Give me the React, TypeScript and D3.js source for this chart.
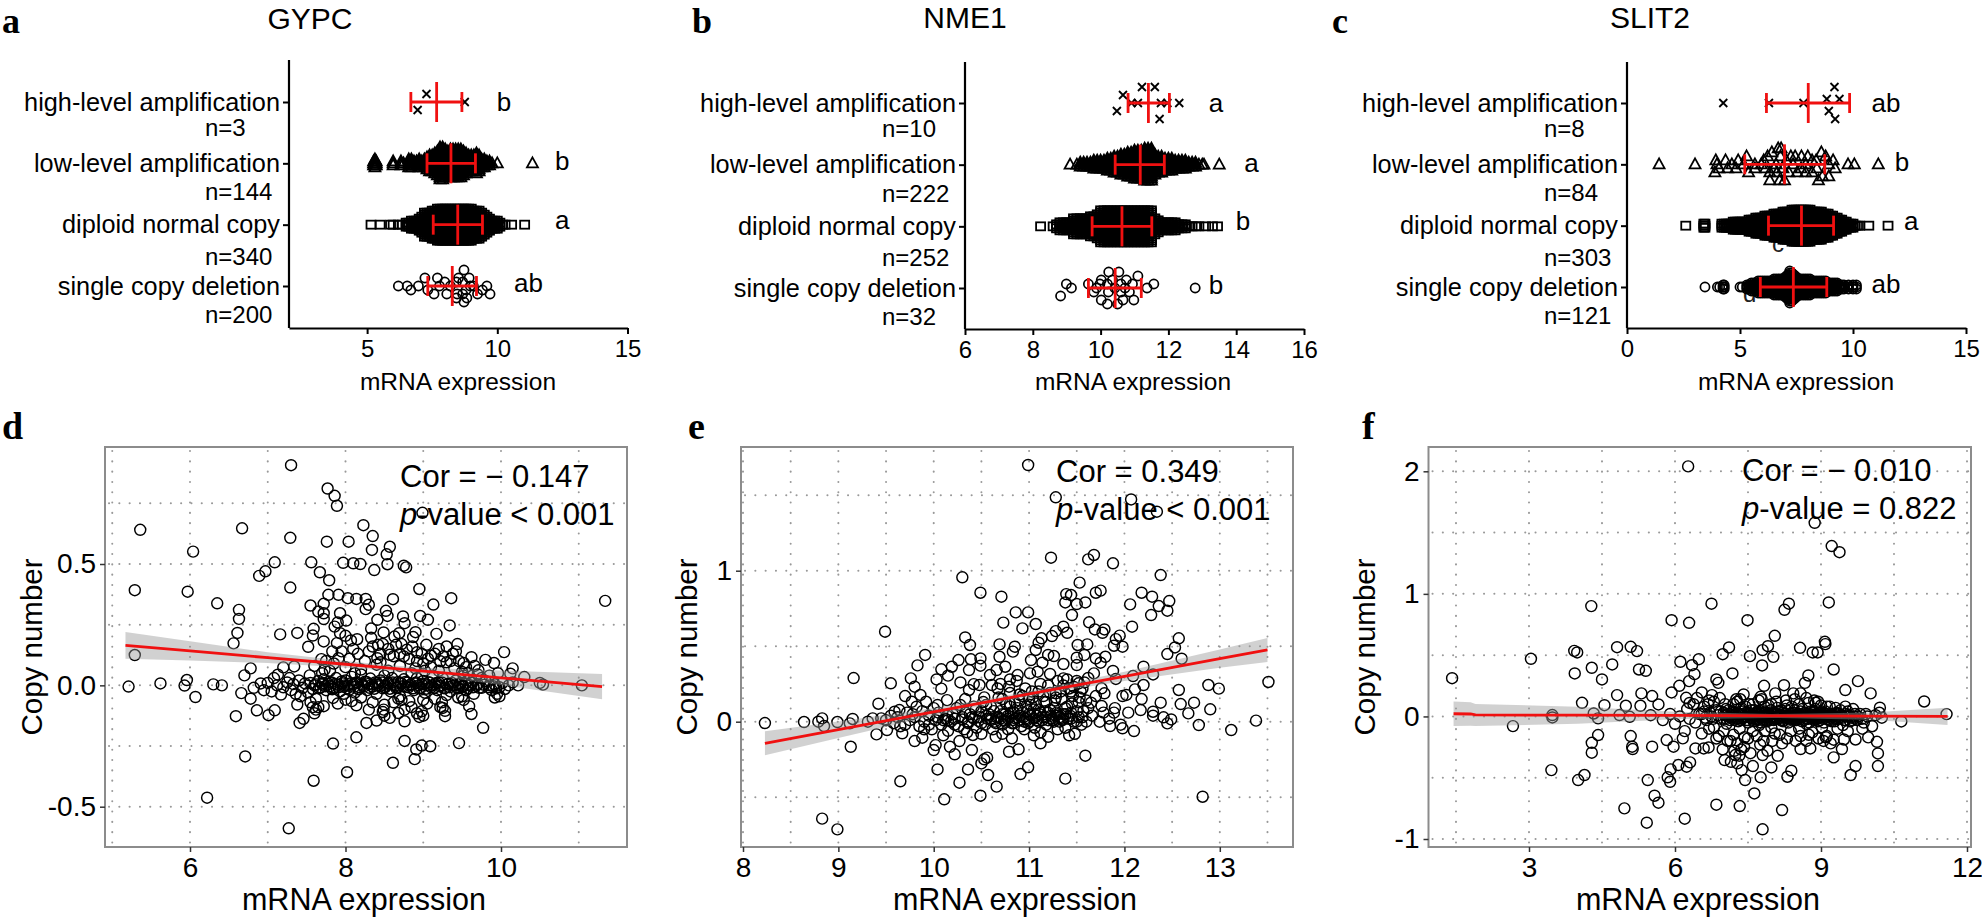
import React, { useEffect, useRef } from "react";
import * as d3 from "d3";

type Pair = [number, number];

const categories = ["high-level amplification", "low-level amplification", "diploid normal copy", "single copy deletion"];

// swarm panels: [value, lane] for sparse groups, [value, stack height in lanes] for dense groups
const gypcHigh: Pair[] = [[7.28, -2], [6.94, 2], [8.75, 0]];
const gypcLow: Pair[] = [[5.25, 2], [5.3, 3], [5.35, 2], [6.0, 2], [6.3, 2], [6.4, 1], [6.6, 3], [6.7, 3], [6.8, 2], [6.9, 2], [7.0, 3], [7.1, 2], [7.2, 3], [7.3, 4], [7.4, 5], [7.5, 5], [7.6, 6], [7.7, 7], [7.8, 9], [7.9, 9], [8.0, 8], [8.1, 7], [8.2, 8], [8.3, 8], [8.4, 8], [8.5, 8], [8.6, 8], [8.7, 7], [8.8, 6], [8.9, 5], [9.0, 5], [9.1, 5], [9.2, 6], [9.3, 5], [9.4, 3], [9.5, 3], [9.6, 2], [9.7, 2], [9.8, 1], [10.0, 1], [11.35, 1]];
const gypcDiploid: Pair[] = [[5.15, 1], [5.5, 1], [5.9, 1], [6.0, 1], [6.2, 1], [6.35, 1], [6.5, 2], [6.6, 2], [6.7, 3], [6.8, 3], [6.9, 3], [7.0, 4], [7.1, 5], [7.2, 7], [7.3, 7], [7.4, 7], [7.5, 8], [7.6, 8], [7.7, 9], [7.8, 9], [7.9, 9], [8.0, 9], [8.1, 9], [8.2, 9], [8.3, 9], [8.4, 9], [8.5, 9], [8.6, 9], [8.7, 9], [8.8, 9], [8.9, 9], [9.0, 9], [9.1, 8], [9.2, 8], [9.3, 8], [9.4, 7], [9.5, 6], [9.6, 5], [9.7, 4], [9.8, 3], [9.9, 3], [10.0, 3], [10.1, 2], [10.2, 1], [10.3, 1], [10.55, 1], [11.05, 1]];
const gypcDeletion: Pair[] = [[6.2, 0], [6.54, 0], [6.68, 1], [6.97, 0], [7.22, -2], [7.33, 1], [7.57, 2], [7.7, -2], [7.78, 0], [7.98, -1], [8.06, 2], [8.2, 0], [8.43, -1], [8.43, 3], [8.46, 2], [8.51, -2], [8.67, -1], [8.67, 2], [8.72, -4], [8.72, 4], [8.8, 1], [8.83, 3], [8.92, -2], [8.96, 0], [9.08, 0], [9.24, 2], [9.43, 1], [9.6, 0], [9.72, 2]];

const nme1High: Pair[] = [[11.22, -4], [11.6, -4], [10.66, -2], [10.48, 2], [11.74, 4], [11.1, 0], [10.91, 0], [11.78, 0], [11.97, 0], [12.32, 0]];
const nme1Low: Pair[] = [[9.1, 1], [9.3, 1], [9.4, 2], [9.5, 2], [9.6, 2], [9.7, 2], [9.8, 3], [9.9, 3], [10.0, 3], [10.1, 3], [10.2, 4], [10.3, 4], [10.4, 5], [10.5, 5], [10.6, 6], [10.7, 6], [10.8, 7], [10.9, 7], [11.0, 8], [11.1, 8], [11.2, 8], [11.3, 9], [11.4, 9], [11.5, 9], [11.6, 6], [11.7, 5], [11.8, 5], [11.9, 4], [12.0, 4], [12.1, 4], [12.2, 3], [12.3, 3], [12.4, 3], [12.5, 3], [12.6, 2], [12.7, 2], [12.8, 2], [12.9, 1], [13.0, 1], [13.05, 1], [13.5, 1]];
const nme1Diploid: Pair[] = [[8.23, 1], [8.6, 1], [8.7, 2], [8.8, 3], [8.9, 3], [9.0, 3], [9.1, 3], [9.2, 5], [9.3, 5], [9.4, 5], [9.5, 5], [9.6, 5], [9.7, 6], [9.8, 6], [9.9, 7], [10.0, 9], [10.1, 9], [10.2, 9], [10.3, 9], [10.4, 9], [10.5, 9], [10.6, 9], [10.7, 9], [10.8, 9], [10.9, 9], [11.0, 9], [11.1, 9], [11.2, 9], [11.3, 9], [11.4, 9], [11.5, 9], [11.6, 5], [11.7, 4], [11.8, 3], [11.9, 3], [12.0, 3], [12.1, 3], [12.2, 3], [12.3, 2], [12.4, 2], [12.5, 2], [12.6, 1], [12.7, 1], [12.8, 1], [12.9, 1], [13.1, 1], [13.3, 1], [13.45, 1]];
const nme1Deletion: Pair[] = [[8.82, 2], [8.99, -1], [9.14, 0], [9.64, -1], [9.8, 1], [9.88, 0], [9.98, -1], [10.02, -2], [10.02, 3], [10.2, -1], [10.23, 1], [10.2, 4], [10.24, -4], [10.35, -2], [10.42, 0], [10.5, 4], [10.54, -4], [10.6, -1], [10.6, 1], [10.66, 3], [10.72, 0], [10.76, -2], [10.85, 1], [10.94, -1], [10.98, 3], [11.1, -3], [11.37, 0], [11.57, -1], [12.79, 0]];

const slit2High: Pair[] = [[4.26, 0], [6.28, 0], [7.81, 0], [8.84, -1], [9.4, -1], [8.93, 2], [9.18, -4], [9.21, 4]];
const slit2Low: Pair[] = [[1.42, 0], [3.01, 0], [3.93, -1], [3.98, 0], [3.89, 2], [4.07, 1], [4.36, -1], [4.64, 0], [4.45, 1], [4.92, -1], [4.82, 1], [5.29, -2], [5.38, 2], [5.16, 0], [5.66, 0], [5.66, 1], [5.94, 0], [6.13, 1], [6.22, -2], [6.32, 4], [6.32, 2], [6.41, -3], [6.69, -4], [6.82, -4], [6.79, -2], [6.6, 0], [6.64, 2], [6.75, 4], [6.97, 4], [7.25, -2], [7.35, 0], [7.44, -2], [7.16, 2], [7.53, 2], [7.72, -2], [7.91, 0], [8, -2], [8.19, -1], [8.6, -3], [8.37, -1], [8.19, 2], [8.47, 4], [8.65, 3], [8.93, 3], [8.79, -2], [8.93, 0], [9.12, -1], [9.21, 1], [9.78, 0], [10.06, 0], [11.12, 0], [7.91, 2], [6.5, 1], [6.9, 1], [7.7, 1], [8.4, 1], [6.05, -1], [7.05, -1]];
const slit2Diploid: Pair[] = [[2.6, 1], [3.4, 2], [3.45, 2], [4.2, 2], [4.3, 2], [4.4, 2], [4.5, 2], [4.6, 2], [4.7, 3], [4.8, 3], [4.9, 3], [5.0, 3], [5.1, 3], [5.2, 3], [5.3, 3], [5.4, 4], [5.5, 4], [5.6, 4], [5.7, 5], [5.8, 5], [5.9, 5], [6.0, 5], [6.1, 6], [6.2, 6], [6.3, 6], [6.4, 6], [6.5, 7], [6.6, 7], [6.7, 7], [6.8, 7], [6.9, 8], [7.0, 8], [7.1, 8], [7.2, 8], [7.3, 9], [7.4, 9], [7.5, 9], [7.6, 9], [7.7, 9], [7.8, 9], [7.9, 9], [8.0, 9], [8.1, 9], [8.2, 8], [8.3, 8], [8.4, 8], [8.5, 8], [8.6, 8], [8.7, 7], [8.8, 7], [8.9, 7], [9.0, 6], [9.1, 6], [9.2, 5], [9.3, 5], [9.4, 4], [9.5, 4], [9.6, 3], [9.7, 3], [9.8, 2], [9.9, 2], [10.0, 2], [10.1, 1], [10.2, 1], [10.3, 1], [10.7, 1], [11.55, 1]];
const slit2Deletion: Pair[] = [[3.45, 1], [4.0, 1], [4.1, 1], [4.25, 2], [4.3, 2], [5.0, 1], [5.1, 1], [5.3, 2], [5.4, 2], [5.5, 3], [5.6, 3], [5.7, 3], [5.8, 4], [5.9, 4], [6.0, 4], [6.1, 4], [6.2, 4], [6.3, 4], [6.4, 4], [6.5, 5], [6.6, 5], [6.7, 5], [6.8, 5], [6.9, 5], [7.0, 6], [7.1, 7], [7.2, 9], [7.3, 8], [7.4, 7], [7.5, 6], [7.6, 5], [7.7, 5], [7.8, 5], [7.9, 5], [8.0, 5], [8.1, 5], [8.2, 4], [8.3, 4], [8.4, 4], [8.5, 4], [8.6, 4], [8.7, 4], [8.8, 4], [8.9, 3], [9.0, 3], [9.1, 3], [9.2, 3], [9.3, 3], [9.4, 2], [9.5, 2], [9.6, 2], [9.8, 2], [10.0, 2], [10.15, 2]];

// mean, lower SD, upper SD for the red error bars, in category order
const gypcMeans = [7.67, 8.22, 8.48, 8.27];
const gypcSdLow = [6.68, 7.3, 7.54, 7.33];
const gypcSdHigh = [8.64, 9.16, 9.43, 9.2];
const nme1Means = [11.41, 11.17, 10.63, 10.43];
const nme1SdLow = [10.81, 10.43, 9.75, 9.64];
const nme1SdHigh = [12.03, 11.88, 11.51, 11.2];
const slit2Means = [8.02, 6.97, 7.72, 7.36];
const slit2SdLow = [6.17, 5.21, 6.26, 5.9];
const slit2SdHigh = [9.85, 8.75, 9.14, 8.84];

const gypcCounts = ["n=3", "n=144", "n=340", "n=200"];
const nme1Counts = ["n=10", "n=222", "n=252", "n=32"];
const slit2Counts = ["n=8", "n=84", "n=303", "n=121"];
const gypcLetters = ["b", "b", "a", "ab"];
const nme1Letters = ["a", "a", "b", "b"];
const slit2Letters = ["ab", "b", "a", "ab"];
const gypcLetterAt = [10.26, 12.49, 12.49, 11.2];
const nme1LetterAt = [13.4, 14.45, 14.2, 13.4];
const slit2LetterAt = [11.46, 12.17, 12.58, 11.46];

// copy number scatter points [mRNA, copy number]
const gypcPoints: Pair[] = [[7.3, 0.907], [7.77, 0.811], [7.86, 0.781], [7.89, 0.74], [8.99, 0.711], [5.36, 0.641], [6.67, 0.647], [8.23, 0.66], [7.29, 0.608], [8.35, 0.615], [7.76, 0.592], [8.04, 0.592], [8.57, 0.571], [8.34, 0.558], [6.04, 0.551], [8.53, 0.54], [7.09, 0.507], [7.56, 0.507], [7.97, 0.505], [8.1, 0.503], [8.19, 0.5], [8.54, 0.499], [8.75, 0.493], [8.78, 0.486], [8.37, 0.475], [7.67, 0.466], [6.97, 0.47], [6.89, 0.451], [7.79, 0.433], [7.29, 0.403], [5.29, 0.392], [5.97, 0.386], [8.95, 0.397], [7.78, 0.373], [7.91, 0.373], [8.03, 0.359], [8.14, 0.356], [8.26, 0.356], [8.61, 0.355], [9.36, 0.359], [9.13, 0.333], [6.35, 0.338], [7.55, 0.329], [7.72, 0.336], [8.3, 0.332], [8.26, 0.314], [8.52, 0.307], [6.63, 0.311], [6.63, 0.274], [7.65, 0.304], [7.72, 0.297], [7.93, 0.297], [8.54, 0.286], [8.74, 0.284], [8.96, 0.286], [7.72, 0.273], [9.06, 0.27], [8.01, 0.267], [8.41, 0.27], [7.9, 0.259], [8.76, 0.256], [7.86, 0.242], [9.34, 0.247], [8.33, 0.234], [7.59, 0.233], [6.61, 0.216], [7.38, 0.216], [7.16, 0.21], [8.9, 0.219], [8.49, 0.218], [8.69, 0.215], [7.93, 0.215], [9.17, 0.212], [7.58, 0.205], [8.0, 0.204], [8.33, 0.196], [8.63, 0.201], [8.87, 0.199], [8.07, 0.185], [8.15, 0.19], [7.72, 0.181], [7.89, 0.174], [6.56, 0.173], [8.42, 0.167], [7.52, 0.159], [8.65, 0.167], [9.04, 0.167], [9.44, 0.17], [9.3, 0.16], [8.79, 0.147], [8.92, 0.136], [10.04, 0.137], [8.16, 0.13], [7.83, 0.14], [9.38, 0.13], [9.1, 0.122], [8.75, 0.119], [5.29, 0.125], [9.62, 0.116], [8.41, 0.112], [8.57, 0.126], [9.8, 0.105], [9.91, 0.092], [7.91, 0.112], [9.52, 0.092], [9.22, 0.099], [7.69, 0.108], [7.34, 0.078], [6.78, 0.07], [7.2, 0.074], [9.71, 0.062], [10.15, 0.07], [7.73, 0.064], [10.12, 0.048], [6.7, 0.041], [10.3, 0.034], [7.54, 0.041], [7.13, 0.044], [5.21, -0.005], [5.62, 0.008], [5.96, 0.022], [5.93, -0.001], [6.3, 0.004], [6.41, 0], [6.91, 0.008], [10.5, 0.01], [10.54, 0.003], [11.04, 0], [11.34, 0.348], [6.07, -0.048], [6.66, -0.032], [6.78, -0.055], [7.17, -0.038], [6.86, -0.103], [7.09, -0.103], [7.01, -0.123], [6.59, -0.127], [7.46, -0.138], [7.41, -0.155], [7.38, -0.079], [7.62, -0.1], [7.72, -0.086], [7.84, -0.052], [8, -0.059], [8.14, -0.082], [8.3, -0.1], [8.4, -0.145], [8.27, -0.155], [8.49, -0.1], [8.57, -0.134], [8.76, -0.148], [8.68, -0.114], [8.76, -0.1], [8.98, -0.107], [9.25, -0.093], [9.28, -0.127], [9.59, -0.086], [9.62, -0.118], [9.77, -0.175], [8.14, -0.214], [7.84, -0.24], [8.76, -0.229], [8.98, -0.248], [8.91, -0.264], [9.09, -0.251], [9.46, -0.238], [6.71, -0.293], [8.89, -0.304], [8.61, -0.319], [8.02, -0.358], [7.59, -0.393], [6.22, -0.463], [7.27, -0.589],
  [6.82, -0.01], [6.95, -0.02], [7.0, 0.01], [7.05, -0.025], [7.08, 0.03], [7.12, 0.0], [7.2, -0.008], [7.25, 0.012], [7.28, 0.03], [7.3, -0.02], [7.33, 0.005], [7.36, -0.035], [7.4, 0.02], [7.42, -0.045], [7.45, -0.01], [7.48, 0.008], [7.52, -0.03], [7.55, 0.01], [7.58, -0.015], [7.6, 0.0], [7.62, -0.055], [7.65, 0.018], [7.68, -0.008], [7.7, 0.004], [7.72, 0.025], [7.75, -0.02], [7.78, 0.006], [7.8, -0.004], [7.82, 0.012], [7.85, -0.012], [7.88, 0.03], [7.9, 0.002], [7.93, -0.025], [7.96, 0.009], [7.98, -0.006], [8.0, 0.02], [8.03, 0.0], [8.05, -0.018], [8.08, 0.035], [8.1, 0.004], [8.12, -0.03], [8.15, 0.01], [8.18, -0.008], [8.2, 0.045], [8.22, 0.0], [8.25, 0.015], [8.28, -0.02], [8.3, 0.006], [8.32, 0.028], [8.35, -0.005], [8.38, 0.012], [8.4, -0.035], [8.42, 0.002], [8.45, 0.02], [8.48, -0.012], [8.5, 0.04], [8.52, -0.002], [8.55, 0.01], [8.58, -0.025], [8.6, 0.03], [8.62, 0.004], [8.65, -0.01], [8.68, 0.014], [8.7, -0.045], [8.72, 0.006], [8.75, 0.025], [8.78, -0.006], [8.8, 0.012], [8.82, 0.0], [8.85, 0.05], [8.88, -0.02], [8.9, 0.008], [8.92, 0.03], [8.95, -0.012], [8.98, 0.004], [9.0, 0.018], [9.02, -0.03], [9.05, 0.0], [9.08, 0.012], [9.1, -0.008], [9.12, 0.04], [9.15, 0.005], [9.18, -0.02], [9.2, 0.012], [9.22, 0.0], [9.25, 0.03], [9.28, -0.01], [9.3, -0.04], [9.33, 0.008], [9.35, -0.025], [9.38, 0.0], [9.42, 0.02], [9.45, -0.012], [9.48, 0.006], [9.5, -0.003], [9.52, 0.04], [9.55, -0.02], [9.58, 0.002], [9.62, 0.012], [9.65, -0.035], [9.7, 0.005], [9.75, -0.01], [9.8, 0.018], [9.85, 0.0], [9.88, -0.02], [9.92, 0.004], [9.95, -0.035], [9.98, -0.008], [10.02, 0.01], [10.05, -0.015], [10.1, 0.0], [10.15, 0.012], [10.22, 0.0],
  [7.8, 0.06], [8.0, 0.075], [8.2, 0.065], [8.4, 0.085], [8.45, 0.095], [8.55, 0.06], [8.7, 0.08], [8.9, 0.07], [9.0, 0.09], [9.1, 0.075], [9.2, 0.06], [9.3, 0.095], [9.4, 0.07], [9.5, 0.055], [9.55, 0.075], [9.7, 0.045], [9.75, 0.03], [8.62, -0.07], [8.82, -0.065], [9.0, -0.06], [9.15, -0.055], [9.24, -0.07], [9.45, -0.05], [9.52, -0.06], [8.2, -0.05], [7.98, -0.035],
  [7.6, 0.08], [7.7, 0.05], [7.75, 0.1], [7.85, 0.09], [7.95, 0.14], [8.05, 0.11], [8.1, 0.15], [8.12, 0.05], [8.25, 0.1], [8.3, 0.14], [8.35, 0.16], [8.45, 0.13], [8.48, 0.17], [8.55, 0.15], [8.62, 0.12], [8.7, 0.13], [8.72, 0.17], [8.82, 0.11], [8.86, 0.16], [8.92, 0.1], [8.98, 0.13], [9.02, 0.06], [9.06, 0.11], [9.15, 0.13], [9.2, 0.15], [9.26, 0.12], [9.35, 0.1], [9.42, 0.14], [9.46, 0.1], [9.58, 0.05], [9.66, 0.08], [9.85, 0.04], [9.96, 0.05], [7.55, -0.07], [7.65, -0.09], [7.9, -0.075], [8.08, -0.065], [8.35, -0.07], [8.5, -0.08], [8.68, -0.055], [8.85, -0.09], [8.95, -0.13], [9.05, -0.075], [9.22, -0.09], [9.28, -0.105], [9.5, -0.045], [9.92, -0.05], [9.98, -0.045], [8.48, -0.11], [8.5, -0.125], [8.72, -0.06], [8.92, -0.115], [9.0, -0.125], [7.6, -0.115], [7.58, -0.09]];

// the dark strip around zero copy change
const gypcCore: Pair[] = [[7.62, 0.004], [7.66, -0.012], [7.71, 0.01], [7.74, -0.004], [7.79, 0.014], [7.83, -0.016], [7.87, 0.006], [7.91, -0.008], [7.95, 0.016], [7.99, 0.0], [8.02, -0.012], [8.06, 0.008], [8.11, -0.006], [8.14, 0.012], [8.17, -0.016], [8.21, 0.006], [8.24, -0.004], [8.27, 0.014], [8.31, -0.01], [8.34, 0.004], [8.37, -0.014], [8.41, 0.01], [8.44, -0.004], [8.47, 0.012], [8.51, -0.008], [8.54, 0.006], [8.57, -0.014], [8.61, 0.012], [8.64, 0.0], [8.67, -0.01], [8.71, 0.01], [8.74, -0.004], [8.77, 0.014], [8.81, -0.008], [8.84, 0.004], [8.87, -0.012], [8.91, 0.012], [8.94, 0.0], [8.97, -0.01], [9.01, 0.006], [9.04, -0.014], [9.07, 0.012], [9.11, 0.0], [9.14, -0.01], [9.17, 0.01], [9.21, -0.004], [9.24, 0.012], [9.27, -0.012], [9.31, 0.004], [9.34, -0.008], [9.37, 0.01], [9.41, 0.0], [9.44, -0.01], [9.47, 0.008], [9.51, -0.006], [9.54, 0.006], [9.57, -0.012], [9.61, 0.0], [9.64, -0.008], [9.68, -0.002], [9.72, -0.01], [9.78, 0.002], [9.84, -0.008], [9.9, -0.004], [9.94, -0.012]];

const nme1Points: Pair[] = [[10.99, 1.7], [11.28, 1.486], [12.07, 1.472], [12.34, 1.391], [11.23, 1.086], [11.62, 1.075], [11.68, 1.104], [11.88, 1.049], [12.38, 0.971], [10.3, 0.956], [11.53, 0.921], [10.49, 0.854], [10.71, 0.828], [11.39, 0.845], [11.44, 0.839], [11.7, 0.854], [11.75, 0.868], [12.18, 0.854], [12.29, 0.828], [12.47, 0.799], [11.38, 0.79], [11.5, 0.779], [11.59, 0.79], [12.06, 0.777], [12.36, 0.766], [12.45, 0.735], [10.86, 0.724], [10.99, 0.724], [11.45, 0.706], [12.28, 0.706], [10.73, 0.656], [11.07, 0.647], [11.63, 0.658], [12.08, 0.629], [10.93, 0.618], [11.36, 0.629], [11.28, 0.6], [11.69, 0.611], [11.79, 0.611], [11.77, 0.589], [9.49, 0.596], [11.4, 0.589], [11.24, 0.567], [11.95, 0.57], [11.13, 0.552], [11.91, 0.547], [10.33, 0.558], [12.57, 0.552], [10.38, 0.508], [10.69, 0.512], [11.1, 0.523], [10.85, 0.497], [11.51, 0.508], [11.61, 0.512], [11.89, 0.503], [11.98, 0.497], [12.53, 0.492], [11.07, 0.475], [10.83, 0.464], [12.45, 0.448], [9.91, 0.442], [11.2, 0.442], [11.26, 0.435], [11.58, 0.442], [11.8, 0.43], [11.5, 0.424], [12.6, 0.417], [10.26, 0.408], [10.39, 0.413], [10.49, 0.419], [10.69, 0.43], [11.02, 0.408], [11.7, 0.419], [11.75, 0.391], [11.14, 0.391], [9.83, 0.373], [10.19, 0.364], [10.49, 0.371], [11.36, 0.382], [11.5, 0.375], [12.2, 0.364], [10.08, 0.347], [10.37, 0.342], [10.75, 0.364], [10.66, 0.342], [11.88, 0.336], [11.09, 0.331], [11.68, 0.32], [10.88, 0.309], [11.01, 0.32], [11.22, 0.316], [10.59, 0.309], [10.15, 0.305], [12.09, 0.302], [12.3, 0.313], [9.16, 0.289], [9.76, 0.287], [10.03, 0.28], [11.91, 0.283], [11.36, 0.287], [13.51, 0.263], [9.55, 0.254], [10.28, 0.26], [10.42, 0.249], [10.48, 0.243], [12.2, 0.243], [12.88, 0.243], [10.61, 0.243], [9.8, 0.232], [11.52, 0.254], [10.79, 0.232], [10.08, 0.219], [12.99, 0.219], [12.57, 0.21], [11.76, 0.221], [12.11, 0.214], [10.37, 0.21], [9.7, 0.17], [9.86, 0.177], [11.98, 0.17], [11.79, 0.188], [10.53, 0.161], [11.28, 0.188], [10.14, 0.143], [12.18, 0.15], [10.33, 0.15], [12.02, 0.177], [9.77, 0.132], [9.92, 0.132], [9.42, 0.119], [12.38, 0.126], [12.73, 0.126], [12.59, 0.117], [10.04, 0.11], [11.76, 0.104], [9.82, 0.099], [11.65, 0.126], [12.9, 0.082], [9.64, 0.077], [12.17, 0.077], [9.59, 0.066], [12.67, 0.055], [11.89, 0.06], [12.3, 0.066], [12.04, 0.06], [8.83, 0.022], [12.3, 0.04], [12.41, 0.029], [12.49, 0.015], [13.38, 0.007], [8.23, -0.009], [8.64, -0.002], [8.79, 0], [8.99, -0.002], [9.15, 0.018], [9.12, -0.011], [9.31, 0], [9.36, 0.022], [9.45, 0.022], [8.85, -0.029], [9.4, -0.084], [9.51, -0.055], [9.67, -0.077], [12.45, -0.011], [12.78, -0.022], [13.12, -0.055], [12.1, -0.062], [11.98, -0.044], [11.85, -0.029], [9.8, -0.128], [9.88, -0.106], [9.13, -0.166], [10.02, -0.155], [10, -0.188], [10.17, -0.166], [10.22, -0.216], [10.4, -0.188], [10.27, -0.128], [10.41, -0.088], [10.79, -0.199], [10.89, -0.183], [11.12, -0.143], [10.82, -0.11], [11.59, -0.225], [10.56, -0.238], [10.53, -0.249], [10.5, -0.276], [10.04, -0.316], [10.36, -0.316], [10.99, -0.302], [10.57, -0.353], [10.91, -0.347], [11.38, -0.377], [9.65, -0.395], [10.27, -0.404], [10.66, -0.43], [10.49, -0.49], [12.82, -0.497], [10.11, -0.514], [8.83, -0.642], [8.99, -0.713],
  [9.5, 0.01], [9.58, -0.01], [9.62, 0.03], [9.7, -0.02], [9.75, 0.01], [9.78, 0.05], [9.85, -0.03], [9.9, 0.0], [9.95, 0.04], [9.98, -0.05], [10.02, 0.01], [10.05, 0.06], [10.08, -0.02], [10.12, 0.02], [10.15, -0.06], [10.18, 0.0], [10.2, 0.05], [10.24, 0.09], [10.26, -0.03], [10.3, 0.015], [10.33, 0.06], [10.36, -0.01], [10.4, 0.03], [10.42, 0.1], [10.45, -0.04], [10.47, 0.005], [10.5, 0.07], [10.52, 0.13], [10.54, -0.02], [10.56, 0.02], [10.58, 0.05], [10.6, 0.1], [10.62, -0.05], [10.64, 0.0], [10.66, 0.03], [10.68, 0.16], [10.7, 0.07], [10.72, -0.02], [10.74, 0.01], [10.76, 0.12], [10.78, 0.04], [10.8, 0.19], [10.82, -0.01], [10.84, 0.06], [10.86, 0.02], [10.88, 0.09], [10.9, 0.14], [10.92, -0.03], [10.94, 0.03], [10.96, 0.22], [10.98, 0.07], [11.0, 0.0], [11.02, 0.11], [11.04, 0.16], [11.06, -0.04], [11.08, 0.04], [11.1, 0.08], [11.12, 0.25], [11.14, 0.01], [11.16, 0.13], [11.18, -0.02], [11.2, 0.06], [11.22, 0.19], [11.24, 0.02], [11.26, 0.09], [11.28, 0.04], [11.3, 0.27], [11.32, 0.0], [11.34, 0.15], [11.36, 0.05], [11.38, -0.04], [11.4, 0.1], [11.42, 0.22], [11.44, 0.02], [11.46, 0.17], [11.48, -0.08], [11.5, 0.07], [11.52, 0.13], [11.54, 0.2], [11.56, 0.03], [11.58, 0.26], [11.6, 0.0], [11.62, 0.09], [11.66, 0.04], [11.7, 0.17], [11.74, 0.0], [11.78, 0.06], [11.84, 0.02], [11.9, 0.09], [11.96, -0.02],
  [9.55, 0.04], [9.65, -0.03], [9.72, 0.06], [9.8, 0.03], [9.88, 0.07], [9.95, -0.02], [10.0, 0.09], [10.04, 0.03], [10.1, 0.01], [10.14, 0.04], [10.22, 0.02], [10.28, 0.11], [10.32, -0.05], [10.38, 0.05], [10.44, 0.08], [10.48, 0.03], [10.55, 0.11], [10.6, 0.01], [10.63, 0.07], [10.67, 0.22], [10.7, 0.02], [10.72, 0.15], [10.75, 0.05], [10.78, -0.05], [10.8, 0.1], [10.83, 0.01], [10.85, 0.13], [10.87, 0.27], [10.9, 0.04], [10.93, 0.17], [10.95, 0.0], [10.97, 0.1], [11.0, 0.05], [11.03, 0.2], [11.05, 0.02], [11.07, 0.12], [11.1, 0.0], [11.12, 0.06], [11.15, 0.17], [11.17, 0.03], [11.2, 0.24], [11.22, 0.08], [11.25, 0.01], [11.27, 0.14], [11.3, 0.05], [11.33, 0.2], [11.35, 0.02], [11.38, 0.09], [11.4, 0.28], [11.43, 0.04], [11.45, 0.12], [11.47, 0.23], [11.5, 0.0], [11.53, 0.16], [11.55, -0.02], [11.57, 0.07], [11.6, 0.14], [11.12, -0.07], [11.2, -0.1], [11.3, -0.05], [11.42, -0.09], [10.65, -0.1], [10.5, -0.08], [10.35, -0.07], [10.72, -0.08], [10.95, -0.05], [11.05, -0.09], [9.9, -0.05], [10.1, -0.09]];

const nme1Core: Pair[] = [[10.15, 0.01], [10.22, -0.02], [10.3, 0.03], [10.36, 0.0], [10.42, 0.02], [10.5, -0.01], [10.55, 0.04], [10.6, 0.02], [10.65, -0.01], [10.68, 0.03], [10.72, 0.05], [10.75, 0.0], [10.78, 0.02], [10.81, 0.06], [10.84, -0.01], [10.87, 0.03], [10.9, 0.01], [10.93, 0.06], [10.96, 0.02], [10.99, -0.01], [11.02, 0.04], [11.05, 0.08], [11.08, 0.01], [11.11, 0.05], [11.14, 0.03], [11.17, 0.07], [11.2, 0.01], [11.23, 0.04], [11.26, 0.0], [11.29, 0.06], [11.32, 0.03], [11.35, 0.01], [11.38, 0.05], [11.41, 0.02], [11.44, 0.06], [11.47, 0.0], [11.52, 0.03], [10.8, 0.12], [10.9, 0.18], [11.0, 0.15], [11.1, 0.2], [11.18, 0.13], [11.28, 0.16], [11.36, 0.24], [11.44, 0.2], [11.5, 0.27], [11.56, 0.22], [11.62, 0.29], [10.7, 0.25], [10.8, 0.28]];

const slit2Points: Pair[] = [[6.27, 2.04], [8.87, 1.58], [9.22, 1.39], [9.38, 1.34], [4.28, 0.9], [6.75, 0.92], [8.34, 0.92], [8.25, 0.87], [9.16, 0.93], [5.93, 0.785], [6.29, 0.764], [7.49, 0.785], [8.05, 0.658], [9.08, 0.609], [5.09, 0.568], [4.81, 0.565], [3.93, 0.535], [3.99, 0.522], [5.22, 0.533], [7.11, 0.563], [6.98, 0.508], [7.8, 0.541], [7.91, 0.573], [8.57, 0.56], [8.83, 0.522], [8.93, 0.522], [9.09, 0.59], [3.04, 0.47], [6.49, 0.467], [7.54, 0.492], [8.02, 0.486], [6.11, 0.446], [4.71, 0.424], [6.35, 0.418], [7.79, 0.416], [4.29, 0.397], [5.26, 0.383], [5.4, 0.372], [3.94, 0.351], [6.4, 0.345], [7.18, 0.351], [9.26, 0.383], [8.74, 0.334], [1.42, 0.312], [4.5, 0.302], [6.85, 0.302], [6.89, 0.274], [6.29, 0.288], [9.76, 0.288], [8.67, 0.274], [8.24, 0.255], [6.09, 0.25], [7.83, 0.25], [9.5, 0.215], [5.93, 0.196], [6.55, 0.196], [8.06, 0.188], [10.02, 0.188], [4.81, 0.174], [5.31, 0.188], [5.53, 0.166], [7.41, 0.179], [8.58, 0.188], [8.43, 0.188], [6.23, 0.152], [6.76, 0.174], [4.09, 0.111], [11.12, 0.122], [5.66, 0.098], [4.55, 0.092], [4.99, 0.087], [5.29, 0.087], [7.28, 0.12], [7.78, 0.141], [8.89, 0.111], [10.21, 0.071], [4.33, 0.024], [3.48, 0.011], [3.48, -0.008], [4.86, 0.011], [11.58, 0.019], [10.65, -0.041], [2.67, -0.079], [4.42, -0.016], [5.07, -0.003], [4.42, -0.152], [5.09, -0.16], [4.29, -0.215], [4.29, -0.296], [5.12, -0.247], [5.13, -0.266], [5.53, -0.247], [5.83, -0.193], [5.97, -0.247], [6.16, -0.179], [6.42, -0.261], [6.59, -0.261], [6.69, -0.253], [6.98, -0.269], [8.58, -0.266], [8.78, -0.261], [9.43, -0.266], [9.47, -0.188], [9.71, -0.188], [9.97, -0.171], [10.15, -0.207], [10.17, -0.302], [10.17, -0.405], [9.26, -0.334], [9.71, -0.405], [9.61, -0.478], [8.11, -0.321], [7.98, -0.416], [8.39, -0.443], [8.31, -0.492], [7.76, -0.497], [7.6, -0.405], [7.44, -0.519], [7.37, -0.438], [7.02, -0.356], [7.15, -0.37], [7.24, -0.315], [7.28, -0.383], [7.8, -0.315], [6.31, -0.375], [6.24, -0.41], [6.07, -0.397], [5.91, -0.432], [5.85, -0.497], [5.9, -0.533], [5.44, -0.519], [3.46, -0.438], [4.14, -0.478], [4.01, -0.519], [5.58, -0.647], [5.66, -0.704], [4.96, -0.75], [5.42, -0.867], [6.2, -0.834], [6.85, -0.72], [7.33, -0.731], [7.63, -0.628], [8.2, -0.764], [7.8, -0.921],
  [5.5, 0.01], [5.75, -0.03], [5.9, 0.02], [6.0, -0.06], [6.1, 0.0], [6.2, -0.12], [6.25, 0.06], [6.3, -0.02], [6.38, 0.1], [6.42, -0.05], [6.5, 0.02], [6.55, -0.14], [6.6, 0.08], [6.65, -0.03], [6.7, 0.13], [6.75, 0.0], [6.8, -0.09], [6.85, 0.05], [6.9, -0.16], [6.95, -0.02], [7.0, 0.03], [7.03, 0.1], [7.06, -0.06], [7.1, 0.0], [7.14, -0.2], [7.18, 0.04], [7.22, -0.03], [7.26, 0.14], [7.3, 0.02], [7.33, -0.1], [7.36, 0.07], [7.4, -0.01], [7.43, -0.17], [7.46, 0.03], [7.5, -0.05], [7.53, 0.1], [7.56, 0.0], [7.6, -0.12], [7.63, 0.05], [7.66, -0.02], [7.7, 0.02], [7.73, -0.07], [7.76, 0.16], [7.78, 0.0], [7.82, -0.2], [7.85, 0.04], [7.88, -0.03], [7.92, 0.09], [7.95, 0.01], [7.98, -0.09], [8.02, 0.03], [8.05, -0.02], [8.08, 0.12], [8.12, 0.0], [8.15, -0.15], [8.18, 0.05], [8.22, -0.04], [8.26, 0.02], [8.3, 0.09], [8.34, -0.01], [8.38, -0.12], [8.42, 0.03], [8.46, 0.14], [8.5, -0.03], [8.54, 0.0], [8.58, -0.16], [8.62, 0.06], [8.66, 0.01], [8.7, -0.06], [8.74, 0.11], [8.78, 0.0], [8.82, -0.13], [8.86, 0.04], [8.9, -0.02], [8.94, 0.12], [8.98, 0.01], [9.02, -0.09], [9.06, 0.03], [9.1, -0.17], [9.14, 0.0], [9.18, 0.08], [9.22, -0.04], [9.26, -0.19], [9.3, 0.02], [9.35, -0.02], [9.4, 0.05], [9.45, -0.07], [9.5, 0.0], [9.55, 0.04], [9.6, -0.04], [9.66, 0.06], [9.72, -0.02], [9.8, 0.02], [9.88, -0.05], [9.95, 0.0], [10.05, -0.08], [10.12, 0.01], [10.2, 0.03], [10.25, -0.01],
  [6.55, 0.02], [6.62, -0.01], [6.72, 0.03], [6.78, -0.02], [6.88, 0.01], [6.94, 0.04], [7.0, -0.02], [7.05, 0.01], [7.1, 0.05], [7.13, -0.03], [7.16, 0.01], [7.2, 0.03], [7.23, -0.01], [7.27, 0.0], [7.3, -0.04], [7.34, 0.02], [7.37, -0.02], [7.4, 0.04], [7.44, 0.0], [7.47, -0.03], [7.5, 0.02], [7.54, -0.01], [7.57, 0.05], [7.6, 0.01], [7.62, -0.04], [7.65, 0.02], [7.68, -0.02], [7.71, 0.04], [7.74, 0.0], [7.77, -0.05], [7.8, 0.03], [7.83, -0.01], [7.86, 0.01], [7.89, -0.04], [7.92, 0.02], [7.94, -0.02], [7.97, 0.05], [8.0, 0.0], [8.03, -0.03], [8.06, 0.02], [8.09, -0.01], [8.12, 0.04], [8.15, 0.01], [8.18, -0.03], [8.21, 0.03], [8.24, -0.01], [8.27, 0.06], [8.3, 0.0], [8.33, -0.05], [8.36, 0.02], [8.39, -0.02], [8.42, 0.0], [8.45, 0.05], [8.48, -0.03], [8.51, 0.01], [8.55, -0.01], [8.58, 0.04], [8.61, -0.04], [8.64, 0.0], [8.67, 0.03], [8.7, -0.02], [8.73, 0.02], [8.76, -0.05], [8.79, 0.04], [8.82, 0.0], [8.85, -0.02], [8.88, 0.06], [8.91, 0.01], [8.94, -0.04], [8.97, 0.03], [9.0, -0.01], [9.03, 0.02], [9.06, -0.05], [9.09, 0.04], [9.12, 0.0], [9.16, -0.03], [9.2, 0.02], [9.24, 0.0], [9.28, -0.04], [9.32, 0.03], [9.36, -0.01], [9.42, 0.01], [9.48, -0.03], [9.52, 0.02], [9.58, 0.0], [9.64, -0.03], [9.7, 0.02], [9.76, 0.0], [9.84, -0.02], [9.92, 0.02],
  [6.3, 0.11], [6.45, 0.15], [6.6, 0.04], [6.68, 0.1], [6.8, 0.12], [6.92, 0.15], [7.05, 0.06], [7.2, 0.1], [7.34, 0.14], [7.45, 0.08], [7.6, 0.1], [7.72, 0.13], [7.84, 0.08], [7.98, 0.1], [8.1, 0.07], [8.28, 0.13], [8.4, 0.08], [8.55, 0.1], [8.7, 0.15], [8.86, 0.13], [9.0, 0.09], [9.12, 0.08], [9.3, 0.07], [9.5, 0.08], [6.7, -0.1], [6.85, -0.18], [7.0, -0.12], [7.08, -0.2], [7.2, -0.15], [7.22, -0.28], [7.28, -0.22], [7.32, -0.32], [7.36, -0.27], [7.42, -0.25], [7.5, -0.18], [7.55, -0.3], [7.68, -0.16], [7.75, -0.23], [7.85, -0.12], [7.9, -0.28], [8.0, -0.2], [8.05, -0.14], [8.2, -0.22], [8.3, -0.18], [8.48, -0.2], [8.55, -0.1], [8.7, -0.2], [8.75, -0.15], [8.95, -0.18], [9.05, -0.2], [9.12, -0.16], [9.2, -0.22], [9.34, -0.1], [9.55, -0.12], [9.85, -0.1]];

const slit2Core: Pair[] = [[7.02, 0.01], [7.06, -0.02], [7.1, 0.02], [7.15, -0.01], [7.19, 0.0], [7.24, 0.02], [7.28, -0.02], [7.32, 0.01], [7.35, -0.03], [7.39, 0.02], [7.42, -0.01], [7.46, 0.0], [7.49, -0.03], [7.52, 0.03], [7.55, -0.01], [7.58, 0.01], [7.61, -0.02], [7.64, 0.0], [7.67, 0.03], [7.7, -0.03], [7.72, 0.01], [7.75, -0.01], [7.78, 0.02], [7.81, -0.03], [7.84, 0.0], [7.87, 0.03], [7.9, -0.01], [7.93, 0.01], [7.96, -0.03], [7.99, 0.02], [8.02, -0.01], [8.05, 0.0], [8.08, 0.02], [8.11, -0.02], [8.14, 0.01], [8.17, -0.01], [8.2, 0.0], [8.23, -0.03], [8.26, 0.02], [8.29, -0.01], [8.32, 0.01], [8.35, -0.02], [8.38, 0.0], [8.41, 0.02], [8.44, -0.02], [8.47, 0.01], [8.5, 0.0], [8.53, -0.02], [8.56, 0.02], [8.59, -0.01], [8.62, 0.0], [8.65, -0.03], [8.68, 0.02], [8.71, 0.0], [8.74, -0.02], [8.77, 0.02], [8.8, -0.01], [8.83, 0.01], [8.86, -0.03], [8.89, 0.0], [8.92, 0.02], [8.95, -0.01], [8.98, -0.03], [9.01, 0.01], [9.04, -0.02], [9.07, 0.0], [9.1, 0.02], [9.13, -0.02], [9.17, 0.01], [9.21, -0.01], [9.25, 0.01], [9.3, -0.02], [9.34, 0.0], [9.38, 0.02], [9.44, -0.01], [9.5, -0.03], [9.56, 0.01], [9.62, -0.01], [9.68, 0.0], [9.74, -0.03]];

// fitted line and its confidence band
const gypcFitX = [5.17, 6, 7, 8, 8.5, 9, 10, 11.3];
const gypcFit = [0.165, 0.142, 0.114, 0.087, 0.073, 0.059, 0.031, -0.005];
const gypcFitSe = [0.055, 0.04, 0.022, 0.013, 0.012, 0.014, 0.03, 0.052];
const nme1FitX = [8.23, 9, 10, 10.8, 11.5, 12, 13, 13.5];
const nme1Fit = [-0.143, -0.053, 0.065, 0.16, 0.242, 0.3, 0.418, 0.475];
const nme1FitSe = [0.08, 0.055, 0.025, 0.018, 0.022, 0.03, 0.06, 0.08];
const slit2FitX = [1.45, 1.8, 1.9, 4, 6, 8, 10, 11.6];
const slit2Fit = [0.022, 0.02, 0.012, 0.01, 0.008, 0.004, 0.002, 0];
const slit2FitSe = [0.1, 0.095, 0.09, 0.07, 0.03, 0.016, 0.03, 0.07];

const SANS = "'Liberation Sans', Arial, sans-serif";
const SERIF = "'Liberation Serif', 'Times New Roman', serif";
const RED = "#f01010";

type Sel = d3.Selection<any, unknown, null, undefined>;

// dense groups: fill the stack height with markers at half-lane steps so the swarm closes up
function stackLanes(bins: Pair[]): Pair[] {
  const out: Pair[] = [];
  bins.forEach(([v, h]) => {
    for (let l = -(h - 1) / 2; l <= (h - 1) / 2; l += 0.5) out.push([v, l]);
  });
  return out;
}

function marker(g: Sel, kind: string, x: number, y: number) {
  if (kind === "x") {
    g.append("path").attr("d", `M${x - 4},${y - 4}L${x + 4},${y + 4}M${x - 4},${y + 4}L${x + 4},${y - 4}`).attr("stroke", "#000").attr("stroke-width", 1.8).attr("fill", "none");
  } else if (kind === "tri") {
    g.append("path").attr("d", `M${x},${y - 6}L${x + 5.5},${y + 4}L${x - 5.5},${y + 4}Z`).attr("stroke", "#000").attr("stroke-width", 1.8).attr("fill", "none");
  } else if (kind === "sq") {
    g.append("rect").attr("x", x - 4.5).attr("y", y - 4).attr("width", 9).attr("height", 8).attr("stroke", "#000").attr("stroke-width", 1.8).attr("fill", "none");
  } else {
    g.append("circle").attr("cx", x).attr("cy", y).attr("r", 4.6).attr("stroke", "#000").attr("stroke-width", 1.7).attr("fill", "none");
  }
}

function swarmPanel(svg: Sel, p: any) {
  const x = d3.scaleLinear().domain(p.domain).range(p.xRange);
  const y = d3.scalePoint().domain(categories).range(p.yRange);
  const g = svg.append("g");

  g.append("text").attr("x", p.titleX).attr("y", p.titleY).attr("text-anchor", "middle").attr("font-family", SANS).attr("font-size", 30).text(p.title);
  g.append("text").attr("x", p.tagX).attr("y", 33).attr("font-family", SERIF).attr("font-weight", "bold").attr("font-size", 36).text(p.tag);

  const xAxis = g.append("g").attr("transform", `translate(0,${p.axisY})`).call(d3.axisBottom(x).tickValues(p.ticks).tickSize(6).tickSizeOuter(0).tickPadding(6).tickFormat(d3.format("d") as any));
  xAxis.select(".domain").attr("stroke-width", 2.2);
  xAxis.selectAll(".tick line").attr("stroke-width", 2);
  xAxis.selectAll("text").attr("font-family", SANS).attr("font-size", 24).attr("fill", "#000");
  g.append("text").attr("x", p.xTitleX).attr("y", 390).attr("text-anchor", "middle").attr("font-family", SANS).attr("font-size", 24.5).text("mRNA expression");

  const yAxis = g.append("g").attr("transform", `translate(${p.xRange[0]},0)`).call(d3.axisLeft(y).tickSize(6).tickPadding(3));
  yAxis.select(".domain").remove();
  yAxis.selectAll(".tick line").attr("stroke-width", 2);
  yAxis.selectAll("text").attr("font-family", SANS).attr("font-size", 25.3).attr("fill", "#000");
  g.append("line").attr("x1", p.xRange[0]).attr("x2", p.xRange[0]).attr("y1", p.axisTop).attr("y2", p.axisY).attr("stroke", "#000").attr("stroke-width", 2.2);

  p.counts.forEach((t: string, i: number) => {
    g.append("text").attr("x", p.countX).attr("y", y(categories[i])! + [34, 37, 40, 37][i]).attr("font-family", SANS).attr("font-size", 24).text(t);
    g.append("text").attr("x", x(p.letterAt[i])).attr("y", y(categories[i])! + [9, 7, 4, 6][i]).attr("text-anchor", "middle").attr("font-family", SANS).attr("font-size", 26).text(p.letters[i]);
  });

  (p.stray || []).forEach((s: any) => g.append("text").attr("x", s.x).attr("y", s.y).attr("font-family", SANS).attr("font-size", 24).attr("fill", "#222").text(s.t));

  const kinds = ["x", "tri", "sq", "circle"];
  p.groups.forEach((pts: Pair[], i: number) => {
    const cy = y(categories[i])!;
    pts.forEach(([v, lane]) => marker(g, kinds[i], x(v), cy + lane * 4));
    const red = g.append("g").attr("stroke", RED).attr("stroke-width", 2.8);
    red.append("line").attr("x1", x(p.sdLow[i])).attr("x2", x(p.sdHigh[i])).attr("y1", cy).attr("y2", cy);
    red.append("line").attr("x1", x(p.means[i])).attr("x2", x(p.means[i])).attr("y1", cy - 20).attr("y2", cy + 20);
    [p.sdLow[i], p.sdHigh[i]].forEach((s: number) => red.append("line").attr("x1", x(s)).attr("x2", x(s)).attr("y1", cy - 10).attr("y2", cy + 10));
  });
}

function scatterPanel(svg: Sel, p: any) {
  const x = d3.scaleLinear().domain(p.xDomain).range(p.xRange);
  const y = d3.scaleLinear().domain(p.yDomain).range(p.yRange);
  const [left, right] = [p.boxLeft, p.boxRight];
  const [top, bottom] = [447, 847];
  const g = svg.append("g");

  g.append("text").attr("x", p.tagX).attr("y", 439).attr("font-family", SERIF).attr("font-weight", "bold").attr("font-size", 38).text(p.tag);

  const grid = g.append("g").attr("stroke", "#999").attr("stroke-width", 2).attr("stroke-linecap", "round").attr("stroke-dasharray", "0.1 10.2");
  p.gridX.forEach((v: number) => grid.append("line").attr("x1", x(v)).attr("x2", x(v)).attr("y1", top + 4).attr("y2", bottom - 2));
  p.gridY.forEach((v: number) => grid.append("line").attr("x1", left + 4).attr("x2", right - 2).attr("y1", y(v)).attr("y2", y(v)));

  const dots = g.append("g");
  p.points.forEach(([a, b]: Pair) => {
    dots.append("circle").attr("cx", x(a)).attr("cy", y(b)).attr("r", 5.5).attr("fill", "none").attr("stroke", "#000").attr("stroke-width", 1.45);
  });

  const fit = p.fitX.map((v: number, i: number) => ({ x: v, y: p.fit[i], se: p.fitSe[i] }));
  g.append("path").datum(fit).attr("fill", "#999").attr("fill-opacity", 0.45)
    .attr("d", d3.area<any>().x((d) => x(d.x)).y0((d) => y(d.y - d.se)).y1((d) => y(d.y + d.se)));
  g.append("path").datum(fit).attr("fill", "none").attr("stroke", RED).attr("stroke-width", 2.8)
    .attr("d", d3.line<any>().x((d) => x(d.x)).y((d) => y(d.y)));

  g.append("rect").attr("x", left).attr("y", top).attr("width", right - left).attr("height", bottom - top).attr("fill", "none").attr("stroke", "#8c8c8c").attr("stroke-width", 2);

  const xAxis = g.append("g").attr("transform", `translate(0,${bottom})`).call(d3.axisBottom(x).tickValues(p.xTicks).tickSize(5).tickSizeOuter(0).tickPadding(5).tickFormat(d3.format("d") as any));
  xAxis.select(".domain").remove();
  xAxis.selectAll("line").attr("stroke", "#333").attr("stroke-width", 1.5);
  xAxis.selectAll("text").attr("font-family", SANS).attr("font-size", 28).attr("fill", "#000");
  const yAxis = g.append("g").attr("transform", `translate(${left},0)`).call(d3.axisLeft(y).tickValues(p.yTicks).tickSize(5).tickPadding(4).tickFormat(p.yFormat));
  yAxis.select(".domain").remove();
  yAxis.selectAll("line").attr("stroke", "#333").attr("stroke-width", 1.5);
  yAxis.selectAll("text").attr("font-family", SANS).attr("font-size", 28).attr("fill", "#000");

  g.append("text").attr("x", p.xTitleX).attr("y", 910).attr("text-anchor", "middle").attr("font-family", SANS).attr("font-size", 30.5).text("mRNA expression");
  g.append("text").attr("transform", `translate(${p.yTitleX},647) rotate(-90)`).attr("text-anchor", "middle").attr("font-family", SANS).attr("font-size", 29.5).text("Copy number");

  const cor = g.append("text").attr("x", p.noteX).attr("y", p.noteY).attr("font-family", SANS).attr("font-size", 31);
  cor.text(p.cor);
  const pv = g.append("text").attr("x", p.noteX).attr("y", p.noteY + 38).attr("font-family", SANS).attr("font-size", 31);
  pv.append("tspan").attr("font-style", "italic").text("p");
  pv.append("tspan").text(p.pValue);
}

export default function App() {
  const svgRef = useRef<SVGSVGElement>(null);

  useEffect(() => {
    const svg = d3.select(svgRef.current) as unknown as Sel;
    svg.selectAll("*").remove();

    swarmPanel(svg, {
      title: "GYPC", titleX: 310, titleY: 29, tag: "a", tagX: 2, domain: [2, 15], xRange: [289, 627.5], yRange: [102, 286], axisY: 328, axisTop: 60,
      ticks: [5, 10, 15], counts: gypcCounts, countX: 205, letters: gypcLetters, letterAt: gypcLetterAt, xTitleX: 458,
      groups: [gypcHigh, stackLanes(gypcLow), stackLanes(gypcDiploid), gypcDeletion], means: gypcMeans, sdLow: gypcSdLow, sdHigh: gypcSdHigh,
    });
    swarmPanel(svg, {
      title: "NME1", titleX: 965, titleY: 28, tag: "b", tagX: 692, domain: [6, 16], xRange: [965, 1304], yRange: [103, 288], axisY: 329, axisTop: 62,
      ticks: [6, 8, 10, 12, 14, 16], counts: nme1Counts, countX: 882, letters: nme1Letters, letterAt: nme1LetterAt, xTitleX: 1133,
      groups: [nme1High, stackLanes(nme1Low), stackLanes(nme1Diploid), nme1Deletion], means: nme1Means, sdLow: nme1SdLow, sdHigh: nme1SdHigh,
    });
    swarmPanel(svg, {
      title: "SLIT2", titleX: 1650, titleY: 28, tag: "c", tagX: 1332, domain: [0, 15], xRange: [1627, 1966], yRange: [103, 287], axisY: 328, axisTop: 62,
      ticks: [0, 5, 10, 15], counts: slit2Counts, countX: 1544, letters: slit2Letters, letterAt: slit2LetterAt, xTitleX: 1796,
      stray: [{ t: "c", x: 1772, y: 252 }, { t: "d", x: 1743, y: 302 }],
      groups: [slit2High, slit2Low, stackLanes(slit2Diploid), stackLanes(slit2Deletion)], means: slit2Means, sdLow: slit2SdLow, sdHigh: slit2SdHigh,
    });

    scatterPanel(svg, {
      tag: "d", tagX: 2, xDomain: [6, 10], xRange: [190, 501], yDomain: [-0.5, 0.5], yRange: [806.7, 564], boxLeft: 105, boxRight: 627,
      gridX: [5, 6, 7, 8, 9, 10, 11], gridY: [-0.5, -0.25, 0, 0.25, 0.5, 0.75], xTicks: [6, 8, 10], yTicks: [-0.5, 0, 0.5], yFormat: (v: number) => v.toFixed(1),
      points: gypcPoints.concat(gypcCore), fitX: gypcFitX, fit: gypcFit, fitSe: gypcFitSe, xTitleX: 364, yTitleX: 42, noteX: 400, noteY: 487,
      cor: "Cor =  \u2212 0.147", pValue: "-value < 0.001",
    });
    scatterPanel(svg, {
      tag: "e", tagX: 688, xDomain: [8, 13], xRange: [743, 1219.8], yDomain: [0, 1], yRange: [721.7, 570.7], boxLeft: 741, boxRight: 1293,
      gridX: [8, 8.5, 9, 9.5, 10, 10.5, 11, 11.5, 12, 12.5, 13, 13.5], gridY: [-0.5, 0, 0.5, 1, 1.5], xTicks: [8, 9, 10, 11, 12, 13], yTicks: [0, 1], yFormat: (v: number) => String(v),
      points: nme1Points.concat(nme1Core), fitX: nme1FitX, fit: nme1Fit, fitSe: nme1FitSe, xTitleX: 1015, yTitleX: 697, noteX: 1056, noteY: 482,
      cor: "Cor = 0.349", pValue: "-value < 0.001",
    });
    scatterPanel(svg, {
      tag: "f", tagX: 1362, xDomain: [3, 12], xRange: [1529, 1967], yDomain: [-1, 2], yRange: [839, 471.3], boxLeft: 1428.5, boxRight: 1971,
      gridX: [1.5, 3, 4.5, 6, 7.5, 9, 10.5, 12], gridY: [-1, -0.5, 0, 0.5, 1, 1.5, 2], xTicks: [3, 6, 9, 12], yTicks: [-1, 0, 1, 2], yFormat: (v: number) => String(v),
      points: slit2Points.concat(slit2Core), fitX: slit2FitX, fit: slit2Fit, fitSe: slit2FitSe, xTitleX: 1698, yTitleX: 1375, noteX: 1742, noteY: 481,
      cor: "Cor =  \u2212 0.010", pValue: "-value = 0.822",
    });
  }, []);

  return <svg ref={svgRef} width={1982} height={920} style={{ position: "absolute", left: 0, top: 0, background: "#fff" }} />;
}
